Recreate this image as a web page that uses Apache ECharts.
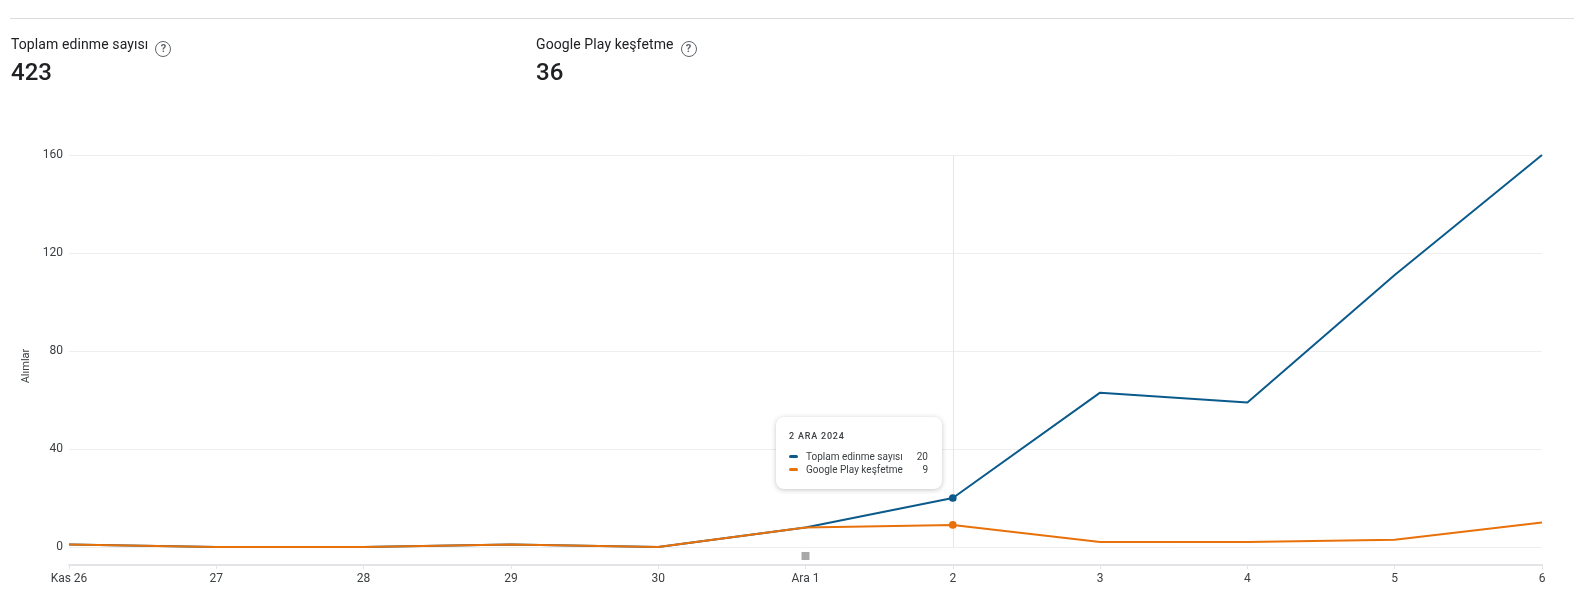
<!DOCTYPE html>
<html>
<head>
<meta charset="utf-8">
<script src="https://cdn.jsdelivr.net/npm/echarts@6/dist/echarts.min.js"></script>
<style>
  html, body { margin: 0; padding: 0; background: #fff; font-family: Roboto, "Noto Sans", sans-serif; }
  #wrap { position: relative; width: 1574px; height: 604px; overflow: hidden; }
  #topline { position: absolute; left: 10px; right: 0; top: 18px; border-top: 1px solid #dadce0; }
  .kpi { position: absolute; top: 34px; color: #202124; }
  .kpi .name { font-size: 14px; line-height: 20px; letter-spacing: 0.1px; }
  .kpi .val { font-size: 24px; font-weight: 500; margin-top: 0; line-height: 30px; }
  .help { display: inline-block; box-sizing: border-box; width: 16px; height: 16px; border: 1.5px solid #5f6368; border-radius: 50%;
          font-size: 11px; line-height: 13px; text-align: center; color: #5f6368; font-weight: 700;
          vertical-align: -3px; margin-left: 7px; }
  #chart { position: absolute; left: 0; top: 0; width: 1574px; height: 604px; }
</style>
</head>
<body>
<div id="wrap">
  <div id="chart"></div>
  <div id="topline"></div>
  <div class="kpi" style="left:11px"><div class="name">Toplam edinme sayısı<span class="help">?</span></div><div class="val">423</div></div>
  <div class="kpi" style="left:536px"><div class="name">Google Play keşfetme<span class="help">?</span></div><div class="val">36</div></div>
</div>
<script>
// tarih etiketleri ve seriler
var days = ['Kas 26', '27', '28', '29', '30', 'Ara 1', '2', '3', '4', '5', '6'];
var tooltipDates = ['26 KAS 2024', '27 KAS 2024', '28 KAS 2024', '29 KAS 2024', '30 KAS 2024',
  '1 ARA 2024', '2 ARA 2024', '3 ARA 2024', '4 ARA 2024', '5 ARA 2024', '6 ARA 2024'];
var totalAcq = [1, 0, 0, 1, 0, 8, 20, 63, 59, 111, 160];
var playExplore = [1, 0, 0, 1, 0, 8, 9, 2, 2, 3, 10];
var seriesNames = ['Toplam edinme sayısı', 'Google Play keşfetme'];
var yTicks = [0, 40, 80, 120, 160];
var activeIndex = 6;

var blue = '#0b5a8c';
var orange = '#e8710a';
var rule = '#eeeeee';

var chart = echarts.init(document.getElementById('chart'), null, { renderer: 'canvas' });

function dotSize(v, p) { return p.dataIndex === activeIndex ? 7 : 0; }

chart.setOption({
  animation: false,
  grid: { left: 69, right: 32, top: 155, bottom: 57, outerBoundsMode: 'none', containLabel: false },
  tooltip: {
    trigger: 'axis',
    alwaysShowContent: true,
    backgroundColor: '#fff',
    borderColor: '#fff',
    borderWidth: 0,
    padding: [13, 14, 13, 13],
    extraCssText: 'box-shadow:0 1px 5px rgba(60,64,67,0.3);border-radius:8px;width:139px;',
    axisPointer: { type: 'line', lineStyle: { color: '#e6e6e6', width: 1, type: 'solid' }, z: 0 },
    position: function (point, params, dom, rect, size) {
      return [point[0] - size.contentSize[0] - 11, 417];
    },
    formatter: function (params) {
      var idx = params[0].dataIndex;
      var html = '<div style="font-family:Roboto;font-size:9px;letter-spacing:0.8px;color:#3c4043;font-weight:500;line-height:12px;margin-bottom:8px">' + tooltipDates[idx] + '</div>';
      params.forEach(function (p) {
        html += '<div style="font-family:Roboto;font-size:10px;color:#3c4043;line-height:13px;display:flex;align-items:center">' +
          '<span style="display:inline-block;width:9px;height:3px;border-radius:2px;background:' + p.color + ';margin-right:8px"></span>' +
          '<span style="flex:1">' + p.seriesName + '</span>' +
          '<span style="margin-left:6px;min-width:12px;text-align:right">' + p.value + '</span></div>';
      });
      return html;
    }
  },
  xAxis: {
    type: 'category',
    data: days,
    boundaryGap: false,
    offset: 18,
    axisLine: { onZero: false, lineStyle: { color: '#e3e3e8', width: 2 } },
    axisTick: { show: true, length: 4, lineStyle: { color: '#e3e3e8' } },
    axisLabel: { color: '#3c4043', fontFamily: 'Roboto', fontSize: 12, margin: 8 },
    splitLine: { show: false }
  },
  yAxis: {
    type: 'value',
    min: 0, max: 160, interval: 40,
    name: 'Alımlar',
    nameLocation: 'middle',
    nameGap: 35,
    nameTextStyle: { color: '#3c4043', fontFamily: 'Roboto', fontSize: 11, padding: [0, 0, 0, -30] },
    axisLine: { show: false },
    axisTick: { show: false },
    axisLabel: { color: '#3c4043', fontFamily: 'Roboto', fontSize: 12, margin: 6,
      customValues: yTicks },
    splitLine: { lineStyle: { color: rule, width: 1 } }
  },
  series: [
    {
      name: seriesNames[0],
      type: 'line',
      data: totalAcq,
      color: blue,
      symbol: 'circle',
      symbolSize: dotSize,
      lineStyle: { width: 2, color: blue },
      emphasis: { disabled: true },
      z: 2
    },
    {
      name: seriesNames[1],
      type: 'line',
      data: playExplore,
      color: orange,
      symbol: 'circle',
      symbolSize: dotSize,
      lineStyle: { width: 2, color: orange },
      emphasis: { disabled: true },
      z: 3
    }
  ]
});

// küçük not işareti (Ara 1 altında)
var notePos = chart.convertToPixel({ gridIndex: 0 }, [days[5], 0]);
chart.setOption({
  graphic: [{
    type: 'rect',
    shape: { x: notePos[0] - 4, y: notePos[1] + 5, width: 8, height: 8 },
    style: { fill: '#a8a8a8' }
  }]
});

chart.dispatchAction({ type: 'showTip', seriesIndex: 0, dataIndex: activeIndex });
window.addEventListener('resize', function () { chart.resize(); });
</script>
</body>
</html>
